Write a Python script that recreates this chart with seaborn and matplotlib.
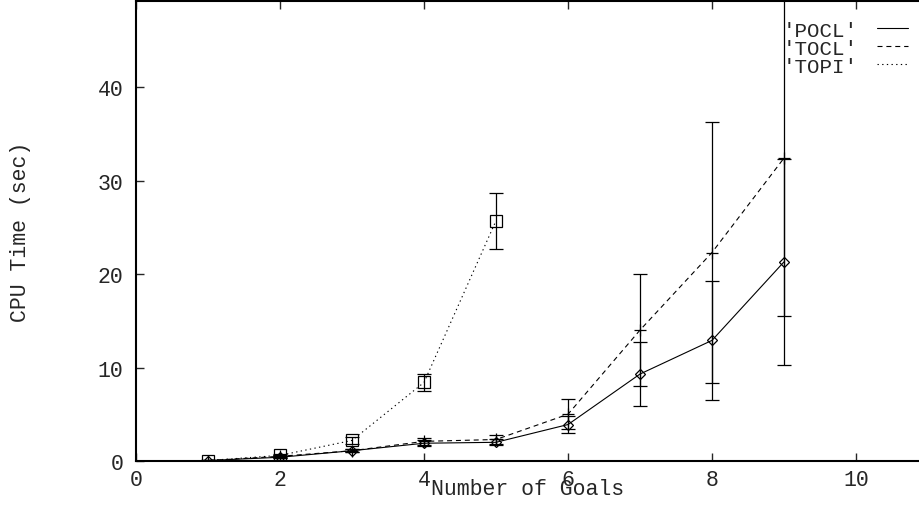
import matplotlib
matplotlib.use("Agg")
import matplotlib.pyplot as plt
from matplotlib.lines import Line2D
import seaborn as sns
import pandas as pd

# Mean CPU time (sec) per number of goals, with error half-widths
goals = [1, 2, 3, 4, 5, 6, 7, 8, 9]
pocl_time = [0.05, 0.4, 1.1, 1.9, 2.0, 3.9, 9.3, 12.9, 21.3]
pocl_err = [0.05, 0.1, 0.15, 0.3, 0.3, 0.9, 3.45, 6.4, 11.0]
tocl_time = [0.05, 0.5, 1.1, 2.1, 2.3, 5.0, 14.0, 22.3, 32.4]
tocl_err = [0.05, 0.15, 0.15, 0.35, 0.5, 1.6, 6.0, 14.0, 16.9]
topi_goals = [1, 2, 3, 4, 5]
topi_time = [0.05, 0.6, 2.2, 8.4, 25.7]
topi_err = [0.05, 0.2, 0.4, 0.9, 3.0]

series_names = ["'POCL'", "'TOCL'", "'TOPI'"]
x_ticks = [0, 2, 4, 6, 8, 10]
y_ticks = [0, 10, 20, 30, 40]

sns.set_theme(style="ticks")
plt.rcParams["font.family"] = ["Liberation Mono", "DejaVu Sans Mono"]
plt.rcParams["font.size"] = 15.5

fig = plt.figure(figsize=(9.2, 5.1), dpi=100)
ax = fig.add_axes([136 / 920, 48 / 510, 792 / 920, 460 / 510])

styles = [
    dict(marker="D", ms=5.5, linestyle="-"),
    dict(marker="+", ms=9, linestyle=(0, (4.5, 3.5))),
    dict(marker="s", ms=8.5, linestyle=(0, (1.2, 3))),
]
data = [
    (goals, pocl_time, pocl_err),
    (goals, tocl_time, tocl_err),
    (topi_goals, topi_time, topi_err),
]

for name, (xs, ys, es), st in zip(series_names, data, styles):
    df = pd.DataFrame({"goals": xs, "time": ys})
    sns.lineplot(
        data=df, x="goals", y="time", ax=ax, color="black",
        linewidth=0.8, linestyle=st["linestyle"], marker=st["marker"],
        markersize=st["ms"], markerfacecolor="none",
        markeredgecolor="black", markeredgewidth=0.9, legend=False,
    )
    ax.errorbar(xs, ys, yerr=es, fmt="none", ecolor="black",
                elinewidth=0.9, capsize=5, capthick=0.9, zorder=3)

ax.set_xlim(0, 11)
ax.set_ylim(0, 49.2)
ax.set_xticks(x_ticks)
ax.set_yticks(y_ticks)
ax.tick_params(direction="in", length=6, width=1, top=True, right=True,
               labelsize=15.5)
ax.tick_params(axis="x", pad=6)
ax.tick_params(axis="y", pad=9)
for sp in ax.spines.values():
    sp.set_linewidth(1.5)
    sp.set_color("black")

ax.set_xlabel("Number of Goals", fontsize=15.5, va="center")
ax.xaxis.set_label_coords((528 - 136) / 792, -(490 - 462) / 460)
ax.set_ylabel("CPU Time (sec)", fontsize=15.5, va="center")
ax.yaxis.set_label_coords((20 - 136) / 792, 0.5)

handles = [
    Line2D([], [], color="black", lw=0.8, linestyle=st["linestyle"])
    for st in styles
]
ax.legend(handles, series_names, markerfirst=False, frameon=False,
          loc="upper right", bbox_to_anchor=(923 / 920, 1 - 7 / 510),
          bbox_transform=fig.transFigure, fontsize=15, handlelength=1.5,
          handletextpad=0.95, labelspacing=-0.05, borderpad=0.2)

fig.savefig("out.png", dpi=100)
